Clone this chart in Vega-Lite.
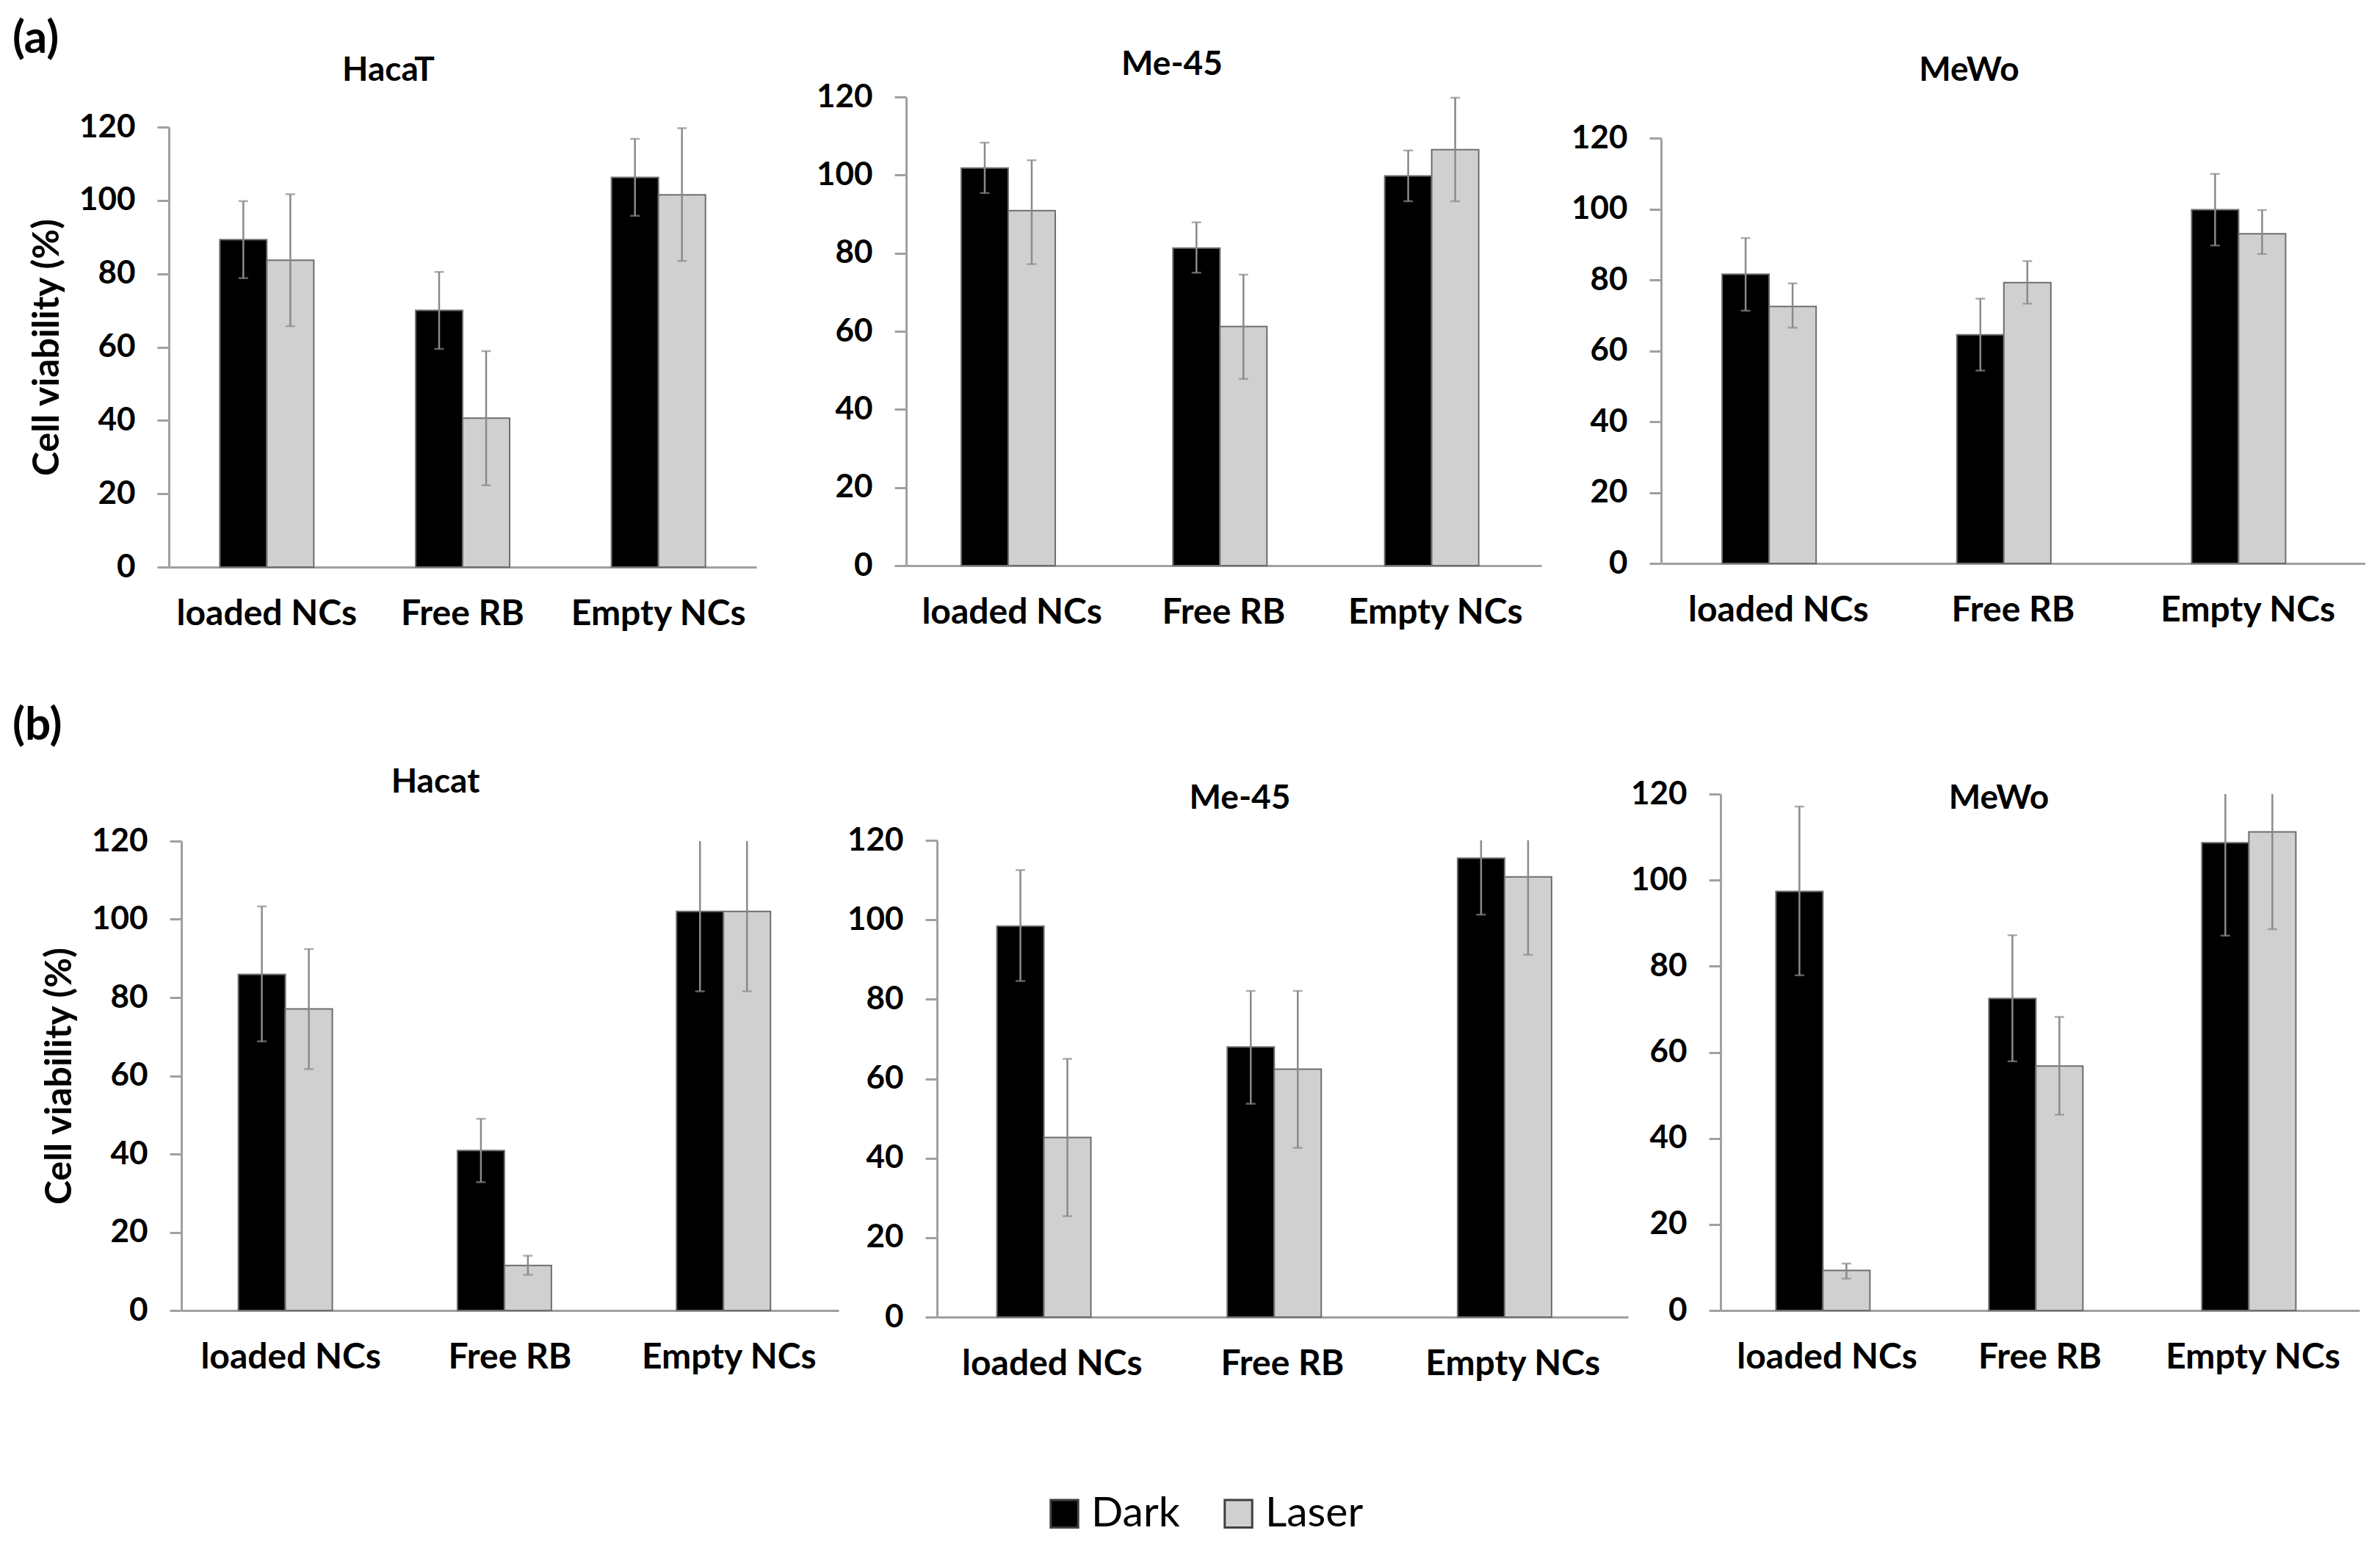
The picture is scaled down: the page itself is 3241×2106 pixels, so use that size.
{
  "$schema": "https://vega.github.io/schema/vega-lite/v6.json",
  "padding": {"left": 17, "top": 22, "right": 0, "bottom": 0},
  "background": "white",
  "config": {
    "font": "Lato",
    "view": {"stroke": null},
    "axisY": {"labelFontSize": 44, "labelFontWeight": "bold", "labelColor": "#000000", "tickSize": 16, "tickColor": "#a0a0a0", "tickWidth": 3, "domainColor": "#a0a0a0", "domainWidth": 3, "labelPadding": 30, "grid": false, "titleFontSize": 50, "titleFontWeight": "bold", "titleColor": "#000000", "titlePadding": 18},
    "axisX": {"labelFontSize": 48, "labelFontWeight": "bold", "labelColor": "#000000", "ticks": false, "tickSize": 0, "domainColor": "#a0a0a0", "domainWidth": 3, "labelPadding": 40, "labelAngle": 0, "labelLimit": 0, "grid": false},
    "legend": {"orient": "none", "legendX": 1191, "legendY": 1900, "direction": "horizontal", "title": null, "symbolType": "square", "symbolSize": 1400, "labelFontSize": 57, "labelFont": "Lato", "labelFontWeight": "normal", "labelColor": "#000000", "columnPadding": 51, "labelOffset": 8, "symbolStrokeColor": "#404040", "symbolStrokeWidth": 3, "padding": 0},
    "title": {"fontSize": 46, "fontWeight": "bold", "color": "#000000", "baseline": "alphabetic", "frame": "group"}
  },
  "datasets": {
    "a1": [
      {"group": "loaded NCs", "cond": "Dark", "v": 89.3, "lo": 78.8, "hi": 99.8},
      {"group": "loaded NCs", "cond": "Laser", "v": 83.7, "lo": 65.7, "hi": 101.7},
      {"group": "Free RB", "cond": "Dark", "v": 70.0, "lo": 59.5, "hi": 80.5},
      {"group": "Free RB", "cond": "Laser", "v": 40.6, "lo": 22.3, "hi": 58.9},
      {"group": "Empty NCs", "cond": "Dark", "v": 106.3, "lo": 95.8, "hi": 116.8},
      {"group": "Empty NCs", "cond": "Laser", "v": 101.5, "lo": 83.5, "hi": 119.7}
    ],
    "a2": [
      {"group": "loaded NCs", "cond": "Dark", "v": 101.8, "lo": 95.4, "hi": 108.3},
      {"group": "loaded NCs", "cond": "Laser", "v": 90.9, "lo": 77.2, "hi": 103.8},
      {"group": "Free RB", "cond": "Dark", "v": 81.3, "lo": 75.0, "hi": 87.9},
      {"group": "Free RB", "cond": "Laser", "v": 61.2, "lo": 47.8, "hi": 74.5},
      {"group": "Empty NCs", "cond": "Dark", "v": 99.8, "lo": 93.3, "hi": 106.3},
      {"group": "Empty NCs", "cond": "Laser", "v": 106.5, "lo": 93.3, "hi": 119.8}
    ],
    "a3": [
      {"group": "loaded NCs", "cond": "Dark", "v": 81.6, "lo": 71.3, "hi": 91.8},
      {"group": "loaded NCs", "cond": "Laser", "v": 72.5, "lo": 66.5, "hi": 79.0},
      {"group": "Free RB", "cond": "Dark", "v": 64.5, "lo": 54.4, "hi": 74.7},
      {"group": "Free RB", "cond": "Laser", "v": 79.2, "lo": 73.3, "hi": 85.3},
      {"group": "Empty NCs", "cond": "Dark", "v": 99.8, "lo": 89.7, "hi": 109.9},
      {"group": "Empty NCs", "cond": "Laser", "v": 93.0, "lo": 87.3, "hi": 99.7}
    ],
    "b1": [
      {"group": "loaded NCs", "cond": "Dark", "v": 85.9, "lo": 68.8, "hi": 103.3},
      {"group": "loaded NCs", "cond": "Laser", "v": 77.1, "lo": 61.7, "hi": 92.4},
      {"group": "Free RB", "cond": "Dark", "v": 40.9, "lo": 32.8, "hi": 49.0},
      {"group": "Free RB", "cond": "Laser", "v": 11.5, "lo": 9.1, "hi": 14.0},
      {"group": "Empty NCs", "cond": "Dark", "v": 102.0, "lo": 81.6, "hi": 120},
      {"group": "Empty NCs", "cond": "Laser", "v": 102.0, "lo": 81.6, "hi": 120}
    ],
    "b2": [
      {"group": "loaded NCs", "cond": "Dark", "v": 98.4, "lo": 84.6, "hi": 112.5},
      {"group": "loaded NCs", "cond": "Laser", "v": 45.2, "lo": 25.4, "hi": 65.0},
      {"group": "Free RB", "cond": "Dark", "v": 68.0, "lo": 53.7, "hi": 82.1},
      {"group": "Free RB", "cond": "Laser", "v": 62.4, "lo": 42.6, "hi": 82.1},
      {"group": "Empty NCs", "cond": "Dark", "v": 115.5, "lo": 101.3, "hi": 120},
      {"group": "Empty NCs", "cond": "Laser", "v": 110.8, "lo": 91.2, "hi": 120}
    ],
    "b3": [
      {"group": "loaded NCs", "cond": "Dark", "v": 97.4, "lo": 77.9, "hi": 117.1},
      {"group": "loaded NCs", "cond": "Laser", "v": 9.3, "lo": 7.4, "hi": 10.9},
      {"group": "Free RB", "cond": "Dark", "v": 72.5, "lo": 57.9, "hi": 87.2},
      {"group": "Free RB", "cond": "Laser", "v": 56.8, "lo": 45.5, "hi": 68.2},
      {"group": "Empty NCs", "cond": "Dark", "v": 108.7, "lo": 87.1, "hi": 120},
      {"group": "Empty NCs", "cond": "Laser", "v": 111.2, "lo": 88.6, "hi": 120}
    ]
  },
  "bounds": "flush",
  "spacing": 949,
  "resolve": {"scale": {"color": "shared"}, "legend": {"color": "shared"}},
  "vconcat": [
    {
      "title": {"text": "(a)", "anchor": "start", "frame": "group", "dx": -213, "offset": -20, "fontSize": 62},
      "bounds": "flush",
      "spacing": 163,
      "resolve": {"scale": {"color": "shared"}, "legend": {"color": "shared"}},
      "hconcat": [
        {
          "width": 800, "height": 640,
          "title": {"text": "HacaT", "anchor": "middle", "dx": -101, "offset": 12},
          "data": {"name": "a1"},
          "encoding": {
            "x": {"field": "group", "type": "nominal", "sort": ["loaded NCs", "Free RB", "Empty NCs"], "title": null, "scale": {"range": [0, 800], "paddingInner": 0.52, "paddingOuter": 0.26}},
            "xOffset": {"field": "cond", "type": "nominal", "sort": ["Dark", "Laser"], "scale": {"paddingInner": 0, "paddingOuter": 0}}
          },
          "layer": [
            {"mark": {"type": "bar", "stroke": "#6e6e6e", "strokeWidth": 2},
             "encoding": {"y": {"field": "v", "type": "quantitative", "title": "Cell viability (%)", "scale": {"domain": [0, 120], "nice": false, "range": [640, 41]}, "axis": {"values": [0, 20, 40, 60, 80, 100, 120]}},
              "color": {"field": "cond", "type": "nominal", "scale": {"domain": ["Dark", "Laser"], "range": ["#000000", "#d0d0d0"]}}}},
            {"mark": {"type": "rule", "color": "#8a8a8a", "strokeWidth": 2.5}, "encoding": {"y": {"field": "lo", "type": "quantitative", "title": "Cell viability (%)"}, "y2": {"field": "hi"}}},
            {"mark": {"type": "tick", "color": "#8a8a8a", "thickness": 2.5, "size": 13}, "encoding": {"y": {"field": "lo", "type": "quantitative", "title": "Cell viability (%)"}}},
            {"transform": [{"filter": "datum.hi < 120"}], "mark": {"type": "tick", "color": "#8a8a8a", "thickness": 2.5, "size": 13}, "encoding": {"y": {"field": "hi", "type": "quantitative", "title": "Cell viability (%)"}}}
          ]
        },
        {
          "width": 906, "height": 638,
          "title": {"text": "Me-45", "anchor": "middle", "dx": -50, "offset": -2},
          "data": {"name": "a2"},
          "encoding": {
            "x": {"field": "group", "type": "nominal", "sort": ["loaded NCs", "Free RB", "Empty NCs"], "title": null, "scale": {"range": [41, 906], "paddingInner": 0.52, "paddingOuter": 0.26}},
            "xOffset": {"field": "cond", "type": "nominal", "sort": ["Dark", "Laser"], "scale": {"paddingInner": 0, "paddingOuter": 0}}
          },
          "layer": [
            {"mark": {"type": "bar", "stroke": "#6e6e6e", "strokeWidth": 2},
             "encoding": {"y": {"field": "v", "type": "quantitative", "title": null, "scale": {"domain": [0, 120], "nice": false, "range": [638, 0]}, "axis": {"values": [0, 20, 40, 60, 80, 100, 120], "offset": -41}},
              "color": {"field": "cond", "type": "nominal", "scale": {"domain": ["Dark", "Laser"], "range": ["#000000", "#d0d0d0"]}}}},
            {"mark": {"type": "rule", "color": "#8a8a8a", "strokeWidth": 2.5}, "encoding": {"y": {"field": "lo", "type": "quantitative", "title": null}, "y2": {"field": "hi"}}},
            {"mark": {"type": "tick", "color": "#8a8a8a", "thickness": 2.5, "size": 13}, "encoding": {"y": {"field": "lo", "type": "quantitative", "title": null}}},
            {"transform": [{"filter": "datum.hi < 120"}], "mark": {"type": "tick", "color": "#8a8a8a", "thickness": 2.5, "size": 13}, "encoding": {"y": {"field": "hi", "type": "quantitative", "title": null}}}
          ]
        },
        {
          "width": 959, "height": 635,
          "title": {"text": "MeWo", "anchor": "middle", "dx": -60, "offset": 12},
          "data": {"name": "a3"},
          "encoding": {
            "x": {"field": "group", "type": "nominal", "sort": ["loaded NCs", "Free RB", "Empty NCs"], "title": null, "scale": {"range": [0, 959], "paddingInner": 0.52, "paddingOuter": 0.26}},
            "xOffset": {"field": "cond", "type": "nominal", "sort": ["Dark", "Laser"], "scale": {"paddingInner": 0, "paddingOuter": 0}}
          },
          "layer": [
            {"mark": {"type": "bar", "stroke": "#6e6e6e", "strokeWidth": 2},
             "encoding": {"y": {"field": "v", "type": "quantitative", "title": null, "scale": {"domain": [0, 120], "nice": false, "range": [635, 56]}, "axis": {"values": [0, 20, 40, 60, 80, 100, 120]}},
              "color": {"field": "cond", "type": "nominal", "scale": {"domain": ["Dark", "Laser"], "range": ["#000000", "#d0d0d0"]}}}},
            {"mark": {"type": "rule", "color": "#8a8a8a", "strokeWidth": 2.5}, "encoding": {"y": {"field": "lo", "type": "quantitative", "title": null}, "y2": {"field": "hi"}}},
            {"mark": {"type": "tick", "color": "#8a8a8a", "thickness": 2.5, "size": 13}, "encoding": {"y": {"field": "lo", "type": "quantitative", "title": null}}},
            {"transform": [{"filter": "datum.hi < 120"}], "mark": {"type": "tick", "color": "#8a8a8a", "thickness": 2.5, "size": 13}, "encoding": {"y": {"field": "hi", "type": "quantitative", "title": null}}}
          ]
        }
      ]
    },
    {
      "title": {"text": "(b)", "anchor": "start", "frame": "group", "dx": -213, "offset": 22, "fontSize": 62},
      "bounds": "flush",
      "spacing": 126,
      "resolve": {"scale": {"color": "shared"}, "legend": {"color": "shared"}},
      "hconcat": [
        {
          "width": 912, "height": 703,
          "title": {"text": "Hacat", "anchor": "middle", "dx": -93, "offset": -8},
          "data": {"name": "b1"},
          "encoding": {
            "x": {"field": "group", "type": "nominal", "sort": ["loaded NCs", "Free RB", "Empty NCs"], "title": null, "scale": {"range": [17, 912], "paddingInner": 0.52, "paddingOuter": 0.26}},
            "xOffset": {"field": "cond", "type": "nominal", "sort": ["Dark", "Laser"], "scale": {"paddingInner": 0, "paddingOuter": 0}}
          },
          "layer": [
            {"mark": {"type": "bar", "stroke": "#6e6e6e", "strokeWidth": 2},
             "encoding": {"y": {"field": "v", "type": "quantitative", "title": "Cell viability (%)", "scale": {"domain": [0, 120], "nice": false, "range": [703, 64]}, "axis": {"values": [0, 20, 40, 60, 80, 100, 120], "offset": -17}},
              "color": {"field": "cond", "type": "nominal", "scale": {"domain": ["Dark", "Laser"], "range": ["#000000", "#d0d0d0"]}}}},
            {"mark": {"type": "rule", "color": "#8a8a8a", "strokeWidth": 2.5}, "encoding": {"y": {"field": "lo", "type": "quantitative", "title": "Cell viability (%)"}, "y2": {"field": "hi"}}},
            {"mark": {"type": "tick", "color": "#8a8a8a", "thickness": 2.5, "size": 13}, "encoding": {"y": {"field": "lo", "type": "quantitative", "title": "Cell viability (%)"}}},
            {"transform": [{"filter": "datum.hi < 120"}], "mark": {"type": "tick", "color": "#8a8a8a", "thickness": 2.5, "size": 13}, "encoding": {"y": {"field": "hi", "type": "quantitative", "title": "Cell viability (%)"}}}
          ]
        },
        {
          "width": 949, "height": 712,
          "title": {"text": "Me-45", "anchor": "middle", "dx": -54, "offset": -30},
          "data": {"name": "b2"},
          "encoding": {
            "x": {"field": "group", "type": "nominal", "sort": ["loaded NCs", "Free RB", "Empty NCs"], "title": null, "scale": {"range": [8, 949], "paddingInner": 0.52, "paddingOuter": 0.26}},
            "xOffset": {"field": "cond", "type": "nominal", "sort": ["Dark", "Laser"], "scale": {"paddingInner": 0, "paddingOuter": 0}}
          },
          "layer": [
            {"mark": {"type": "bar", "stroke": "#6e6e6e", "strokeWidth": 2},
             "encoding": {"y": {"field": "v", "type": "quantitative", "title": null, "scale": {"domain": [0, 120], "nice": false, "range": [712, 63]}, "axis": {"values": [0, 20, 40, 60, 80, 100, 120], "offset": -8}},
              "color": {"field": "cond", "type": "nominal", "scale": {"domain": ["Dark", "Laser"], "range": ["#000000", "#d0d0d0"]}}}},
            {"mark": {"type": "rule", "color": "#8a8a8a", "strokeWidth": 2.5}, "encoding": {"y": {"field": "lo", "type": "quantitative", "title": null}, "y2": {"field": "hi"}}},
            {"mark": {"type": "tick", "color": "#8a8a8a", "thickness": 2.5, "size": 13}, "encoding": {"y": {"field": "lo", "type": "quantitative", "title": null}}},
            {"transform": [{"filter": "datum.hi < 120"}], "mark": {"type": "tick", "color": "#8a8a8a", "thickness": 2.5, "size": 13}, "encoding": {"y": {"field": "hi", "type": "quantitative", "title": null}}}
          ]
        },
        {
          "width": 870, "height": 703,
          "title": {"text": "MeWo", "anchor": "middle", "dx": -56, "offset": -52},
          "data": {"name": "b3"},
          "encoding": {
            "x": {"field": "group", "type": "nominal", "sort": ["loaded NCs", "Free RB", "Empty NCs"], "title": null, "scale": {"range": [0, 870], "paddingInner": 0.52, "paddingOuter": 0.26}},
            "xOffset": {"field": "cond", "type": "nominal", "sort": ["Dark", "Laser"], "scale": {"paddingInner": 0, "paddingOuter": 0}}
          },
          "layer": [
            {"mark": {"type": "bar", "stroke": "#6e6e6e", "strokeWidth": 2},
             "encoding": {"y": {"field": "v", "type": "quantitative", "title": null, "scale": {"domain": [0, 120], "nice": false, "range": [703, 0]}, "axis": {"values": [0, 20, 40, 60, 80, 100, 120]}},
              "color": {"field": "cond", "type": "nominal", "scale": {"domain": ["Dark", "Laser"], "range": ["#000000", "#d0d0d0"]}}}},
            {"mark": {"type": "rule", "color": "#8a8a8a", "strokeWidth": 2.5}, "encoding": {"y": {"field": "lo", "type": "quantitative", "title": null}, "y2": {"field": "hi"}}},
            {"mark": {"type": "tick", "color": "#8a8a8a", "thickness": 2.5, "size": 13}, "encoding": {"y": {"field": "lo", "type": "quantitative", "title": null}}},
            {"transform": [{"filter": "datum.hi < 120"}], "mark": {"type": "tick", "color": "#8a8a8a", "thickness": 2.5, "size": 13}, "encoding": {"y": {"field": "hi", "type": "quantitative", "title": null}}}
          ]
        }
      ]
    }
  ]
}
